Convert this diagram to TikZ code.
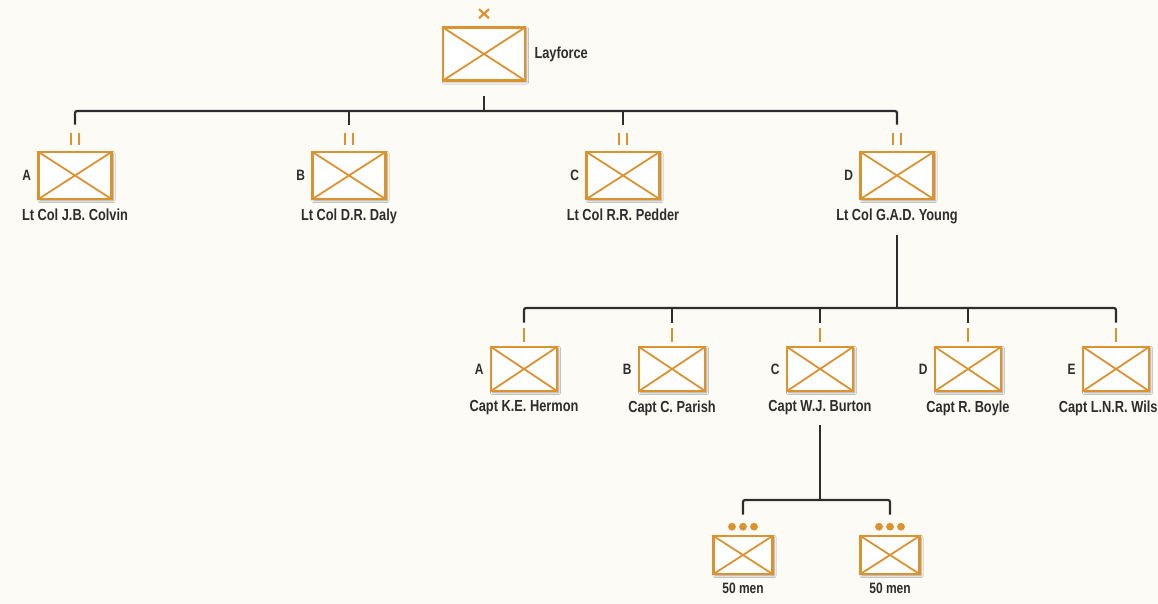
\documentclass[tikz,border=0pt]{standalone}
\usepackage{fontspec}
\setmainfont{Liberation Sans}[FakeStretch=0.8]
\usetikzlibrary{shadows.blur}
\definecolor{unitorange}{RGB}{221,146,48}
\definecolor{paper}{RGB}{253,251,245}
\definecolor{ink}{RGB}{45,45,45}

\begin{document}
\begin{tikzpicture}[x=1pt, y=-1pt, node distance=148pt, every node/.style={font=\bfseries\fontsize{16}{18}\selectfont, text=ink}]
    \tikzstyle{unit} = [rectangle, draw=unitorange, line width=2.6pt, fill=white, inner sep=0pt,
        blur shadow={shadow xshift=1.5pt, shadow yshift=-1.5pt, shadow opacity=40, shadow blur steps=6},
        path picture={\draw [unitorange, line width=1.8pt] (path picture bounding box.north west) -- (path picture bounding box.south east) (path picture bounding box.south west) -- (path picture bounding box.north east);}]
    \tikzstyle{bde} = [unit, minimum width=82pt, minimum height=53pt]
    \tikzstyle{bn} = [unit, minimum width=73pt, minimum height=47pt]
    \tikzstyle{coy} = [unit, minimum width=66pt, minimum height=44pt]
    \tikzstyle{tp} = [unit, minimum width=59pt, minimum height=38pt]
    \tikzstyle{namelbl} = [inner sep=0pt, label distance=8pt]
    \tikzstyle{letterlbl} = [inner sep=0pt, label distance=6pt, font=\bfseries\fontsize{15}{17}\selectfont]
    \tikzstyle{menlbl} = [inner sep=0pt, label distance=8pt, font=\bfseries\fontsize{15}{17}\selectfont]
    \tikzstyle{link} = [draw=ink, line width=2.2pt, rounded corners=2pt]
    \tikzstyle{echelon} = [draw=unitorange, line width=2.6pt]

    \useasboundingbox [fill=paper] (0,0) rectangle (1158,604);

    \node (layforce) [bde, label={[namelbl, label distance=8pt]right:Layforce}] at (484,54) {};

    % battalions
    \node (colvin) [bn, label={[letterlbl]left:A}, label={[namelbl]below:Lt Col J.B. Colvin}] at (75,175.5) {};
    \node (daly) [bn, right of=colvin, node distance=274pt, label={[letterlbl]left:B}, label={[namelbl]below:Lt Col D.R. Daly}] {};
    \node (pedder) [bn, right of=daly, node distance=274pt, label={[letterlbl]left:C}, label={[namelbl]below:Lt Col R.R. Pedder}] {};
    \node (young) [bn, right of=pedder, node distance=274pt, label={[letterlbl]left:D}, label={[namelbl]below:Lt Col G.A.D. Young}] {};

    % troops of D battalion
    \node (hermon) [coy, label={[letterlbl]left:A}, label={[namelbl]below:Capt K.E. Hermon}] at (524,369) {};
    \node (parish) [coy, right of=hermon, label={[letterlbl]left:B}, label={[namelbl]below:Capt C. Parish}] {};
    \node (burton) [coy, right of=parish, label={[letterlbl]left:C}, label={[namelbl]below:Capt W.J. Burton}] {};
    \node (boyle) [coy, right of=burton, label={[letterlbl]left:D}, label={[namelbl]below:Capt R. Boyle}] {};
    \node (wilson) [coy, right of=boyle, label={[letterlbl]left:E}, label={[namelbl]below:Capt L.N.R. Wilson}] {};

    \node (halfA) [tp, label={[menlbl]below:50 men}] at (743,555) {};
    \node (halfB) [tp, right of=halfA, node distance=147pt, label={[menlbl]below:50 men}] {};

    \coordinate (bus1) at (0,111);
    \coordinate (bus2) at (0,308);
    \coordinate (bus3) at (0,500);

    \draw [link] ([yshift=-14pt]layforce.south) -- (layforce |- bus1);
    \draw [link] ([yshift=26pt]colvin.north) -- (colvin |- bus1) -- (young |- bus1) -- ([yshift=26pt]young.north);
    \foreach \n in {daly, pedder}
        \draw [link] (\n |- bus1) -- ([yshift=26pt]\n.north);

    \draw [link] ([yshift=-35pt]young.south) -- (young |- bus2);
    \draw [link] ([yshift=23pt]hermon.north) -- (hermon |- bus2) -- (wilson |- bus2) -- ([yshift=23pt]wilson.north);
    \foreach \n in {parish, burton, boyle}
        \draw [link] (\n |- bus2) -- ([yshift=23pt]\n.north);

    \draw [link] ([yshift=-33pt]burton.south) -- (burton |- bus3);
    \draw [link] ([yshift=20pt]halfA.north) -- (halfA |- bus3) -- (halfB |- bus3) -- ([yshift=20pt]halfB.north);

    % echelon marks
    \draw [echelon, line width=2.2pt] ([xshift=-5pt,yshift=8pt]layforce.north) -- ++(10pt,9pt) ([xshift=5pt,yshift=8pt]layforce.north) -- ++(-10pt,9pt);
    \foreach \n in {colvin, daly, pedder, young}
        \draw [echelon] ([xshift=-4pt,yshift=6pt]\n.north) -- ++(0pt,12pt) ([xshift=4pt,yshift=6pt]\n.north) -- ++(0pt,12pt);
    \foreach \n in {hermon, parish, burton, boyle, wilson}
        \draw [echelon] ([yshift=4pt]\n.north) -- ++(0pt,14pt);
    \foreach \n in {halfA, halfB}
        \foreach \dx in {-11, 0, 11}
            \fill [unitorange] ([xshift=\dx pt, yshift=8pt]\n.north) circle (3.9pt);

\end{tikzpicture}
\end{document}
